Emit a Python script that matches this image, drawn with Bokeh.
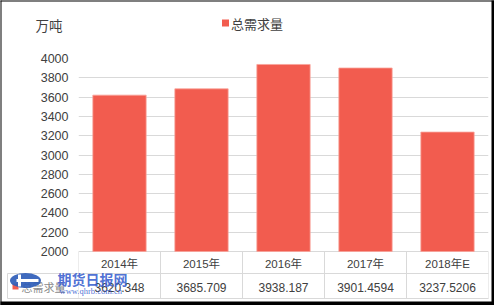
from bokeh.plotting import figure
from bokeh.models import Range1d, FixedTicker, ColumnDataSource
from bokeh.core.properties import value
from bokeh.embed import file_html
from bokeh.resources import INLINE

# ---- data ----
categories = ["2014年", "2015年", "2016年", "2017年", "2018年E"]
demand = [3620.348, 3685.709, 3938.187, 3901.4594, 3237.5206]
demand_labels = ["3620.348", "3685.709", "3938.187", "3901.4594", "3237.5206"]
y_ticks = [2000, 2200, 2400, 2600, 2800, 3000, 3200, 3400, 3600, 3800, 4000]
series_name = "总需求量"
unit = "万吨"

# ---- layout constants (pixels) ----
W, H = 494, 305
FL, FR, FT, FB = 78, 488, 58, 300          # frame edges
Y_TOP, Y_BASE = 4000, 2000
BASE_PX = 251
PPU = (BASE_PX - FT) / (Y_TOP - Y_BASE)    # px per unit
Y_BOTTOM = Y_TOP - (FB - FT) / PPU

def ypx(py):
    return Y_TOP - (py - FT) / PPU

def xpx(px):
    return (px - FL) / (FR - FL) * len(categories)

BAR = "#F25C4F"
GRID = "#D9D9D9"
TXT = "#404040"
FONT = "Liberation Sans, Noto Sans CJK SC"
CJK = "Noto Sans CJK SC"

p = figure(width=W, height=H, output_backend="svg", toolbar_location=None,
           x_range=Range1d(0, len(categories)), y_range=Range1d(Y_BOTTOM, Y_TOP),
           x_axis_location=None, min_border_left=FL, min_border_right=W - FR,
           min_border_top=FT, min_border_bottom=H - FB)
p.outline_line_color = None
p.background_fill_color = "white"
p.border_fill_color = "white"

# y axis
ax = p.yaxis[0]
ax.ticker = FixedTicker(ticks=y_ticks)
ax.axis_line_color = None
ax.major_tick_line_color = None
ax.minor_tick_line_color = None
ax.major_tick_out = 0
ax.major_tick_in = 0
ax.major_label_standoff = 10
ax.major_label_text_font = "Liberation Sans"
ax.major_label_text_font_size = "12.5px"
ax.major_label_text_color = TXT

p.xgrid.visible = False
p.ygrid.ticker = FixedTicker(ticks=y_ticks)
p.ygrid.grid_line_color = GRID
p.ygrid.grid_line_width = 1

# bars
xs = [i + 0.5 for i in range(len(categories))]
src = ColumnDataSource(dict(x=xs, top=demand, cat=categories, lab=demand_labels))
bars = p.vbar(x="x", top="top", bottom=Y_BASE, width=0.65, source=src,
              fill_color=BAR, line_color="#F9A39B", line_width=0.8)

# table lines
row1_top, row2_top, row2_bot = BASE_PX, 273, 298
n = len(categories)
p.segment(x0=list(range(n + 1)), x1=list(range(n + 1)),
          y0=[ypx(row1_top)] * (n + 1), y1=[ypx(row2_bot)] * (n + 1),
          line_color=GRID, line_width=1)
p.segment(x0=[xpx(7), xpx(7), xpx(7)], x1=[n, n, xpx(7)],
          y0=[ypx(row2_top), ypx(row2_bot), ypx(row2_top)],
          y1=[ypx(row2_top), ypx(row2_bot), ypx(row2_bot)],
          line_color=GRID, line_width=1, level="overlay")

# table texts
p.text(x="x", y=ypx(263), text="cat", source=src, text_align="center",
       text_baseline="middle", text_font=value(FONT), text_font_size="11.5px",
       text_color=TXT)
p.text(x="x", y=ypx(286.5), text="lab", source=src, text_align="center",
       text_baseline="middle", text_font=value("Liberation Sans"),
       text_font_size="12px", text_color=TXT)

# header cell (under watermark)
p.rect(x=[xpx(15)], y=[ypx(286)], width=6, height=6, width_units="screen",
       height_units="screen", fill_color=BAR, line_color=None, level="overlay")
p.text(x=[xpx(21)], y=[ypx(286.5)], text=[series_name], text_baseline="middle",
       text_font=value(CJK), text_font_size="11px",
       text_color="#8A8A8A", level="overlay")

# watermark (期货日报网)
p.ellipse(x=[xpx(25)], y=[ypx(280)], width=31, height=15, width_units="screen",
          height_units="screen", fill_color="#2F5DB8", line_color=None,
          fill_alpha=0.92, level="overlay")
p.rect(x=[xpx(27)], y=[ypx(280)], width=22, height=3, width_units="screen",
       height_units="screen", fill_color="white", line_color=None, level="overlay")
p.rect(x=[xpx(19)], y=[ypx(280)], width=3, height=12, width_units="screen",
       height_units="screen", fill_color="white", line_color=None, level="overlay")
p.text(x=[xpx(57)], y=[ypx(278.5)], text=["期货日报网"], text_baseline="middle",
       text_font=value(CJK), text_font_style="bold",
       text_font_size="14px", text_color="#3A5FD0", text_alpha=0.9, level="overlay")
p.text(x=[xpx(59)], y=[ypx(290)], text=["www.qhrb.com.cn"], text_baseline="middle",
       text_font=value("Liberation Serif"), text_font_size="8.5px",
       text_color="#3A5FD0", text_alpha=0.9, level="overlay")

# unit label
p.text(x=[xpx(35)], y=[ypx(24)], text=[unit], text_baseline="middle",
       text_font=value(CJK), text_font_size="13.5px", text_color=TXT,
       level="overlay")

# legend (square + label)
p.rect(x=[xpx(225)], y=[ypx(22.5)], width=7, height=7, width_units="screen",
       height_units="screen", fill_color=BAR, line_color=None, level="overlay")
p.text(x=[xpx(230.5)], y=[ypx(23)], text=[series_name], text_baseline="middle",
       text_font=value(CJK), text_font_size="13px", text_color=TXT,
       level="overlay")

# outer black border
p.quad(left=[xpx(0), xpx(0), xpx(491), xpx(0)],
       right=[xpx(W), xpx(1), xpx(W), xpx(W)],
       top=[ypx(0), ypx(0), ypx(0), ypx(301)],
       bottom=[ypx(1), ypx(H), ypx(H), ypx(H)],
       fill_color="black", line_color=None, level="overlay")

open("out.html", "w").write(file_html(p, INLINE))
